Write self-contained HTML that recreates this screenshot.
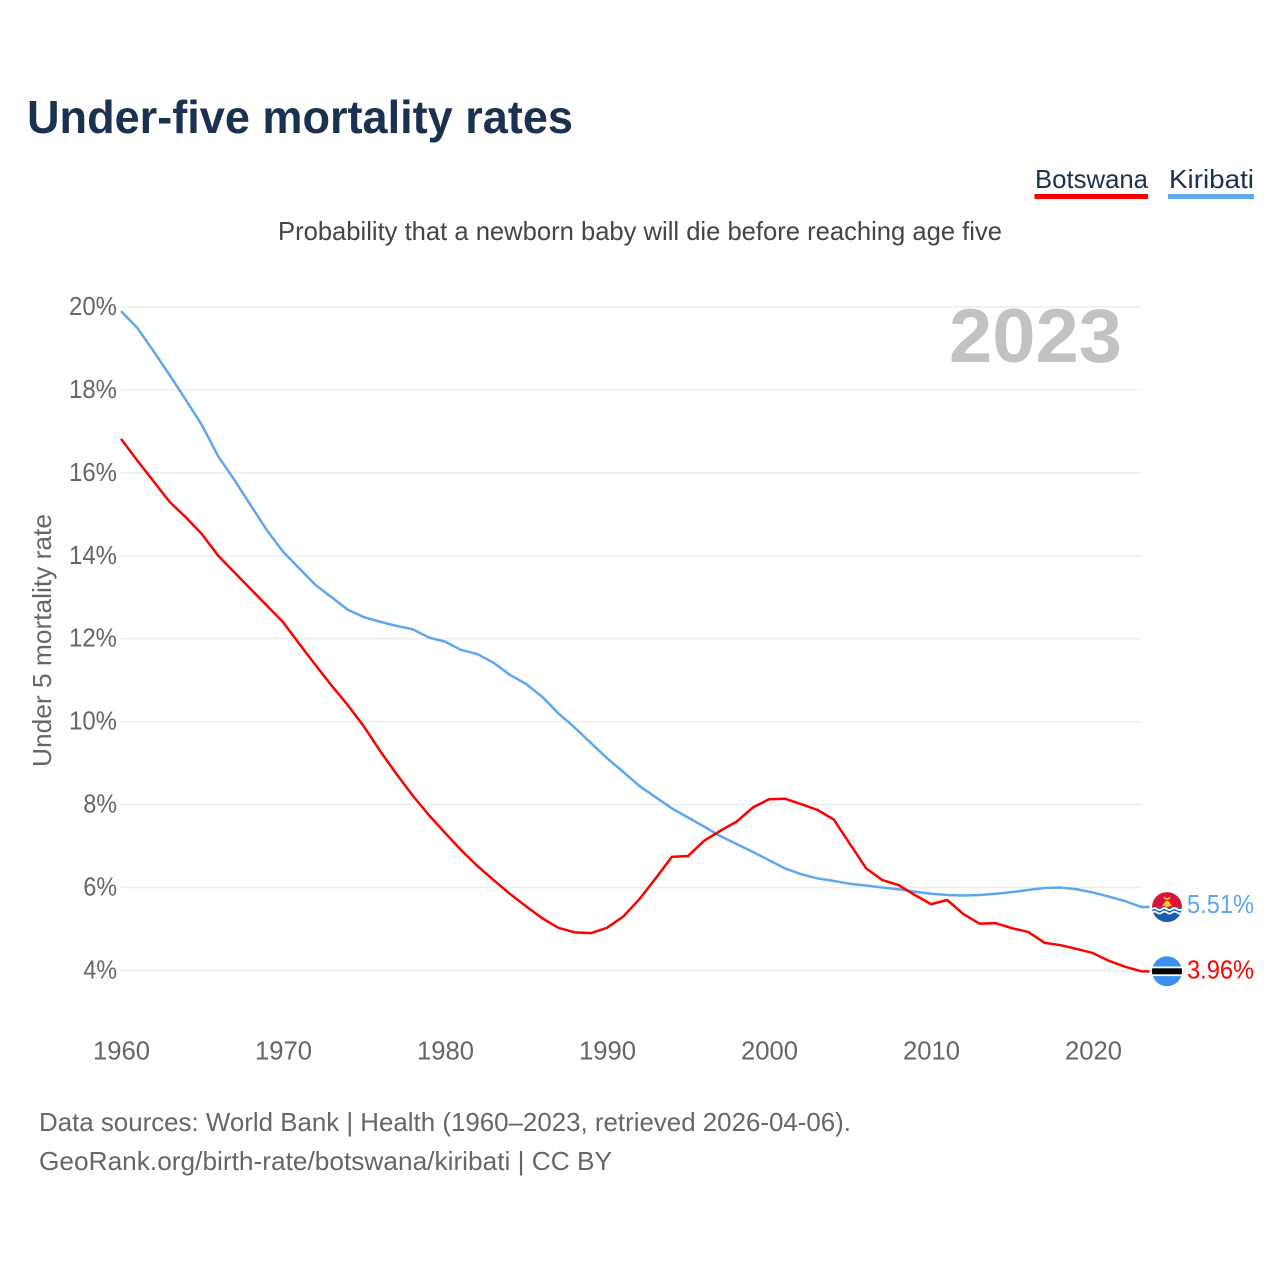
<!DOCTYPE html>
<html lang="en">
<head>
<meta charset="utf-8">
<title>Under-five mortality rates</title>
<style>
html,body{margin:0;padding:0;background:#fff;width:1280px;height:1280px;overflow:hidden}
svg{display:block}
text{font-family:"Liberation Sans",sans-serif}
</style>
</head>
<body>
<svg id="chart" xmlns="http://www.w3.org/2000/svg" width="1280" height="1280" viewBox="0 0 1280 1280">
  <defs>
    <clipPath id="clip-kiribati"><circle cx="0" cy="0" r="15"/></clipPath>
    <clipPath id="clip-botswana"><circle cx="0" cy="0" r="15"/></clipPath>
  </defs>
  <rect x="0" y="0" width="1280" height="1280" fill="#fff"/>
  <text x="27" y="133" font-size="46" font-weight="700" fill="#1a3150" textLength="546" lengthAdjust="spacingAndGlyphs">Under-five mortality rates</text>
  <g>
    <g>
      <text x="1035" y="188" font-size="26" fill="#1a3150" textLength="113" lengthAdjust="spacingAndGlyphs">Botswana</text>
      <rect x="1034.5" y="194" width="113.5" height="5" fill="#ff0000"/>
    </g>
    <g>
      <text x="1169" y="188" font-size="26" fill="#1a3150" textLength="85" lengthAdjust="spacingAndGlyphs">Kiribati</text>
      <rect x="1168" y="194" width="86" height="5" fill="#5ea7ee"/>
    </g>
  </g>
  <text x="278" y="240" font-size="26" fill="#444" textLength="724" lengthAdjust="spacingAndGlyphs">Probability that a newborn baby will die before reaching age five</text>
  <g id="grid"></g>
  <g id="yticks"></g>
  <g id="xticks"></g>
  <text transform="translate(51,767) rotate(-90)" x="0" y="0" font-size="25.6" fill="#666" textLength="253" lengthAdjust="spacingAndGlyphs">Under 5 mortality rate</text>
  <text x="949" y="362" font-size="76" font-weight="700" fill="#c2c2c2" textLength="173" lengthAdjust="spacingAndGlyphs">2023</text>
  <g id="series"></g>
  <g id="flag-kiribati" clip-path="url(#clip-kiribati)">
    <rect x="-15" y="-15" width="30" height="15" fill="#d8143a"/>
    <rect x="-15" y="0" width="30" height="15" fill="#1a5cb0"/>
    <path d="M-15 2q2.500 -2 5 0t5 0t5 0t5 0t5 0t5 0" fill="none" stroke="#fff" stroke-width="1.800"/>
    <path d="M-15 5.500q2.500 -2 5 0t5 0t5 0t5 0t5 0t5 0" fill="none" stroke="#fff" stroke-width="1.800"/>
    <circle cx="0" cy="-3" r="3" fill="#fcd116"/>
    <path d="M-5 -1L-2 -5L0 -7L2 -5L5 -1Z" fill="#fcd116"/>
    <path d="M-4 -10.500L0 -9L4 -10.500L2 -7.500L-2 -7.500Z" fill="#fcc030"/>
  </g>
  <g id="flag-botswana" clip-path="url(#clip-botswana)">
    <rect x="-15" y="-15" width="30" height="30" fill="#3a8ff0"/>
    <rect x="-15" y="-4.800" width="30" height="9.600" fill="#fff"/>
    <rect x="-15" y="-3" width="30" height="6" fill="#000"/>
  </g>
  <text id="label-kiribati" x="1187" font-size="25.6" fill="#5ea7ee" textLength="67" lengthAdjust="spacingAndGlyphs"></text>
  <text id="label-botswana" x="1187" font-size="25.6" fill="#ff0000" textLength="67" lengthAdjust="spacingAndGlyphs"></text>
  <text x="39" y="1131" font-size="26" fill="#666" textLength="812" lengthAdjust="spacingAndGlyphs">Data sources: World Bank | Health (1960–2023, retrieved 2026-04-06).</text>
  <text x="39" y="1170" font-size="26" fill="#666" textLength="573" lengthAdjust="spacingAndGlyphs">GeoRank.org/birth-rate/botswana/kiribati | CC BY</text>
</svg>
<script>
const years = [1960,1961,1962,1963,1964,1965,1966,1967,1968,1969,1970,1971,1972,1973,1974,1975,1976,1977,1978,1979,1980,1981,1982,1983,1984,1985,1986,1987,1988,1989,1990,1991,1992,1993,1994,1995,1996,1997,1998,1999,2000,2001,2002,2003,2004,2005,2006,2007,2008,2009,2010,2011,2012,2013,2014,2015,2016,2017,2018,2019,2020,2021,2022,2023];
const botswana = [16.82,16.3,15.8,15.3,14.93,14.52,14.0,13.6,13.2,12.8,12.4,11.88,11.37,10.87,10.4,9.88,9.29,8.74,8.22,7.75,7.32,6.9,6.52,6.18,5.85,5.55,5.26,5.03,4.92,4.9,5.03,5.3,5.72,6.22,6.74,6.76,7.13,7.37,7.59,7.93,8.13,8.14,8.01,7.87,7.64,7.05,6.46,6.18,6.06,5.82,5.6,5.7,5.36,5.13,5.14,5.02,4.93,4.67,4.61,4.52,4.42,4.23,4.09,3.98];
const kiribati = [19.9,19.5,18.94,18.36,17.76,17.15,16.4,15.83,15.22,14.62,14.1,13.7,13.3,13.0,12.7,12.52,12.41,12.31,12.23,12.03,11.93,11.73,11.63,11.42,11.13,10.91,10.6,10.2,9.86,9.49,9.12,8.79,8.45,8.18,7.91,7.69,7.47,7.24,7.05,6.86,6.66,6.46,6.32,6.22,6.16,6.09,6.05,6.0,5.96,5.9,5.85,5.82,5.81,5.82,5.85,5.89,5.94,5.99,6.0,5.96,5.88,5.78,5.67,5.53];
const yTickValues = [20,18,16,14,12,10,8,6,4];
const yTickLabels = ['20%','18%','16%','14%','12%','10%','8%','6%','4%'];
const xTickValues = [1960,1970,1980,1990,2000,2010,2020];
const xTickLabels = ['1960','1970','1980','1990','2000','2010','2020'];
const endLabelBotswana = '3.96%';
const endLabelKiribati = '5.51%';

const NS = 'http://www.w3.org/2000/svg';
function xScale(year){ return 121 + (year - 1960) * 16.2; }
function yScale(pct){ return 970.5 - (pct - 4) * 41.47; }
function make(tag, attrs, parent){
  const el = document.createElementNS(NS, tag);
  for (const k in attrs) el.setAttribute(k, attrs[k]);
  parent.appendChild(el);
  return el;
}
const gridG = document.getElementById('grid');
const yG = document.getElementById('yticks');
const xG = document.getElementById('xticks');
const seriesG = document.getElementById('series');
const lastYear = years[years.length - 1];

yTickValues.forEach(function(v, i){
  const line = make('line', {x1: xScale(1960), x2: xScale(lastYear), y1: yScale(v), y2: yScale(v), stroke: '#ececec', 'stroke-width': 1.4}, gridG);
  
  
  const t = make('text', {x: 117, y: yScale(v) + 8, 'text-anchor': 'end', 'font-size': 25.6, fill: '#666', textLength: (yTickLabels[i].length - 1) * 14.4 + 19.2, lengthAdjust: 'spacingAndGlyphs'}, yG);
  
  
  t.textContent = yTickLabels[i];
});

xTickValues.forEach(function(v, i){
  const t = make('text', {x: xScale(v) + 0.5, y: 1059.5, 'text-anchor': 'middle', 'font-size': 25.6, fill: '#666', textLength: 57, lengthAdjust: 'spacingAndGlyphs'}, xG);
  
  
  t.textContent = xTickLabels[i];
});

function linePath(values){
  let d = '';
  values.forEach(function(v, i){
    d += (i ? 'L' : 'M') + xScale(years[i]).toFixed(2) + ' ' + yScale(v).toFixed(2);
  });
  const last = values[values.length - 1];
  d += 'L' + (xScale(lastYear) + 8).toFixed(2) + ' ' + yScale(last).toFixed(2);
  return d;
}
const lineKiribati = make('path', {d: linePath(kiribati), fill: 'none', stroke: '#5ea7ee', 'stroke-width': 2.5, 'stroke-linejoin': 'round'}, seriesG);


const lineBotswana = make('path', {d: linePath(botswana), fill: 'none', stroke: '#ff0000', 'stroke-width': 2.5, 'stroke-linejoin': 'round'}, seriesG);



const kLast = kiribati[kiribati.length - 1];
const bLast = botswana[botswana.length - 1];
document.getElementById('flag-kiribati').setAttribute('transform', 'translate(1167,' + yScale(kLast).toFixed(1) + ')');
document.getElementById('flag-botswana').setAttribute('transform', 'translate(1167,' + yScale(bLast).toFixed(1) + ')');
const lk = document.getElementById('label-kiribati');
lk.setAttribute('y', yScale(kLast) + 6);
lk.textContent = endLabelKiribati;
const lb = document.getElementById('label-botswana');
lb.setAttribute('y', yScale(bLast) + 7);
lb.textContent = endLabelBotswana;
</script>
</body>
</html>
